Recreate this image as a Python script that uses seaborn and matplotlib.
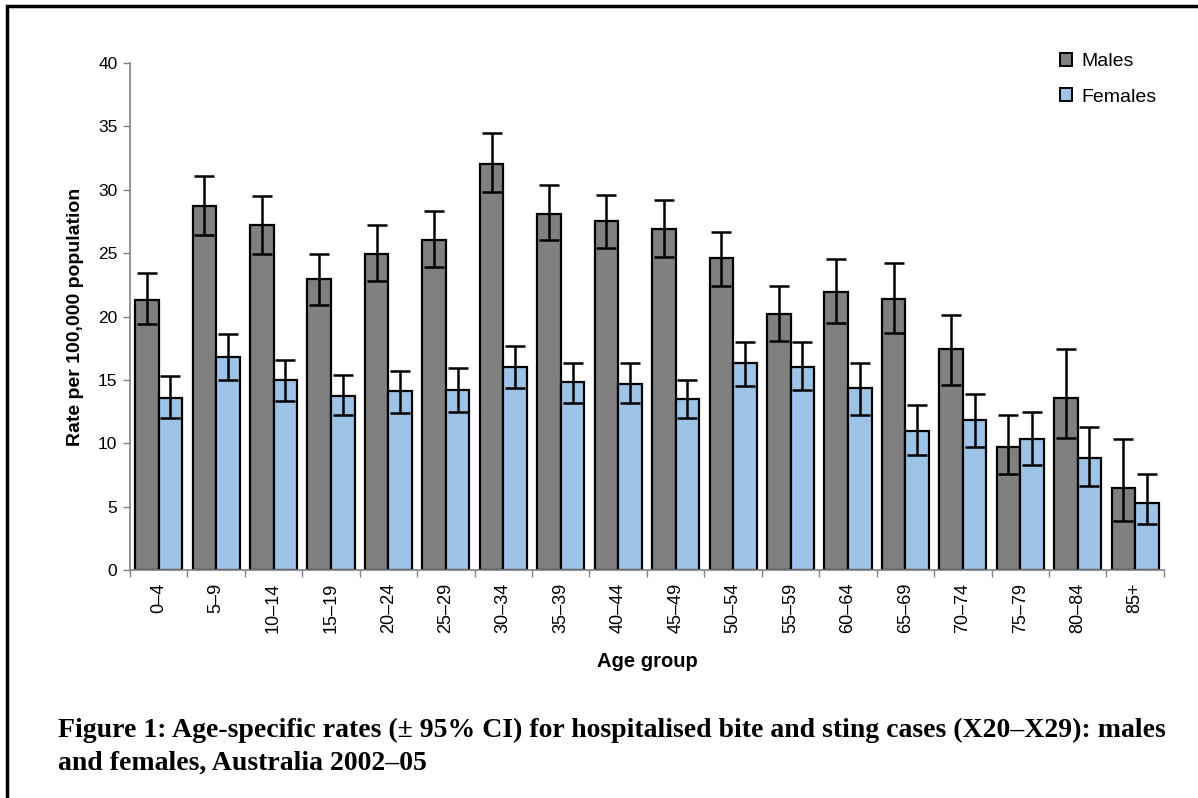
#! /usr/bin/env python
"""
Age-specific rates of hospitalised bite and sting cases, males and females
"""

import pandas as pd
import seaborn as sns
import matplotlib.pyplot as plt
from matplotlib.patches import Rectangle, Patch

age_groups = ["0–4", "5–9", "10–14", "15–19", "20–24", "25–29", "30–34", "35–39",
              "40–44", "45–49", "50–54", "55–59", "60–64", "65–69", "70–74",
              "75–79", "80–84", "85+"]

male_rate = [21.3, 28.7, 27.2, 23.0, 24.9, 26.0, 32.0, 28.1, 27.5,
             26.9, 24.6, 20.2, 21.9, 21.4, 17.4, 9.7, 13.6, 6.5]
male_low = [19.4, 26.4, 24.9, 20.9, 22.8, 23.9, 29.8, 26.0, 25.4,
            24.7, 22.4, 18.1, 19.5, 18.7, 14.6, 7.6, 10.4, 3.9]
male_high = [23.4, 31.1, 29.5, 24.9, 27.2, 28.3, 34.5, 30.4, 29.6,
             29.2, 26.7, 22.4, 24.5, 24.2, 20.1, 12.2, 17.4, 10.3]

female_rate = [13.6, 16.8, 15.0, 13.7, 14.1, 14.2, 16.0, 14.8, 14.7,
               13.5, 16.3, 16.0, 14.4, 11.0, 11.8, 10.3, 8.8, 5.3]
female_low = [12.0, 15.0, 13.3, 12.2, 12.4, 12.5, 14.4, 13.2, 13.2,
              12.0, 14.5, 14.2, 12.2, 9.1, 9.7, 8.3, 6.6, 3.6]
female_high = [15.3, 18.6, 16.6, 15.4, 15.7, 15.9, 17.7, 16.3, 16.3,
               15.0, 18.0, 18.0, 16.3, 13.0, 13.9, 12.5, 11.3, 7.6]

MALE_COLOR = "#808080"
FEMALE_COLOR = "#9DC3E6"

df = pd.DataFrame({
    "Age group": age_groups * 2,
    "Rate": male_rate + female_rate,
    "Low": male_low + female_low,
    "High": male_high + female_high,
    "Sex": ["Males"] * len(age_groups) + ["Females"] * len(age_groups),
})

sns.set_style("white")
plt.rcParams["font.family"] = ["Liberation Sans", "DejaVu Sans"]
plt.rcParams["text.color"] = "black"
plt.rcParams["axes.labelcolor"] = "black"

fig = plt.figure(figsize=(11.98, 7.98), dpi=100)
ax = fig.add_axes([0.1085, 0.2857, 0.863, 0.6353])

sns.barplot(data=df, x="Age group", y="Rate", hue="Sex", order=age_groups,
            hue_order=["Males", "Females"], palette=[MALE_COLOR, FEMALE_COLOR],
            width=0.82, edgecolor="black", linewidth=1.6, errorbar=None,
            saturation=1, legend=False, ax=ax)

# asymmetric confidence intervals on top of the bars
for container, sex in zip(ax.containers, ["Males", "Females"]):
    sub = df[df["Sex"] == sex]
    xs = [bar.get_x() + bar.get_width() / 2 for bar in container]
    ax.errorbar(xs, sub["Rate"], yerr=[sub["Rate"] - sub["Low"], sub["High"] - sub["Rate"]],
                fmt="none", ecolor="black", elinewidth=1.8, capsize=7.5, capthick=1.8, zorder=5)

ax.set_ylim(0, 40)
ax.set_xlim(-0.5, len(age_groups) - 0.5)
ax.set_yticks(range(0, 41, 5))
ax.tick_params(axis="y", left=True, length=5, width=1, color="#808080", labelcolor="black",
               labelsize=12.5, pad=4)
ax.tick_params(axis="x", which="major", length=0, labelsize=13, labelrotation=90, pad=9,
               labelcolor="black")
ax.set_xticks([i + 0.5 for i in range(-1, len(age_groups))], minor=True)
ax.tick_params(axis="x", which="minor", bottom=True, length=5, width=1, color="#808080")

for side in ["top", "right"]:
    ax.spines[side].set_visible(False)
for side in ["left", "bottom"]:
    ax.spines[side].set_color("#808080")
    ax.spines[side].set_linewidth(1.2)

ax.set_xlabel("Age group", fontsize=14.5, fontweight="bold", labelpad=14)
ax.set_ylabel("Rate per 100,000 population", fontsize=14, fontweight="bold", labelpad=10)

handles = [Patch(facecolor=MALE_COLOR, edgecolor="black", linewidth=1.4, label="Males"),
           Patch(facecolor=FEMALE_COLOR, edgecolor="black", linewidth=1.4, label="Females")]
fig.legend(handles=handles, loc="upper left", bbox_to_anchor=(0.87, 0.956), frameon=False,
           fontsize=14, handlelength=0.65, handleheight=0.65, handletextpad=0.45, labelspacing=0.95)

caption_font = dict(fontsize=20, fontweight="bold", family=["Liberation Serif", "DejaVu Serif"],
                    va="baseline", ha="left", color="black")
fig.text(0.048, 0.0764, "Figure 1: Age-specific rates (± 95% CI) for hospitalised bite and sting cases (X20–X29): males",
         **caption_font)
fig.text(0.048, 0.0351, "and females, Australia 2002–05", **caption_font)

fig.add_artist(Rectangle((0.0055, -0.1), 1.2, 1.0925, transform=fig.transFigure,
                         fill=False, edgecolor="black", linewidth=2.5))

plt.savefig("out.png", dpi=100)
